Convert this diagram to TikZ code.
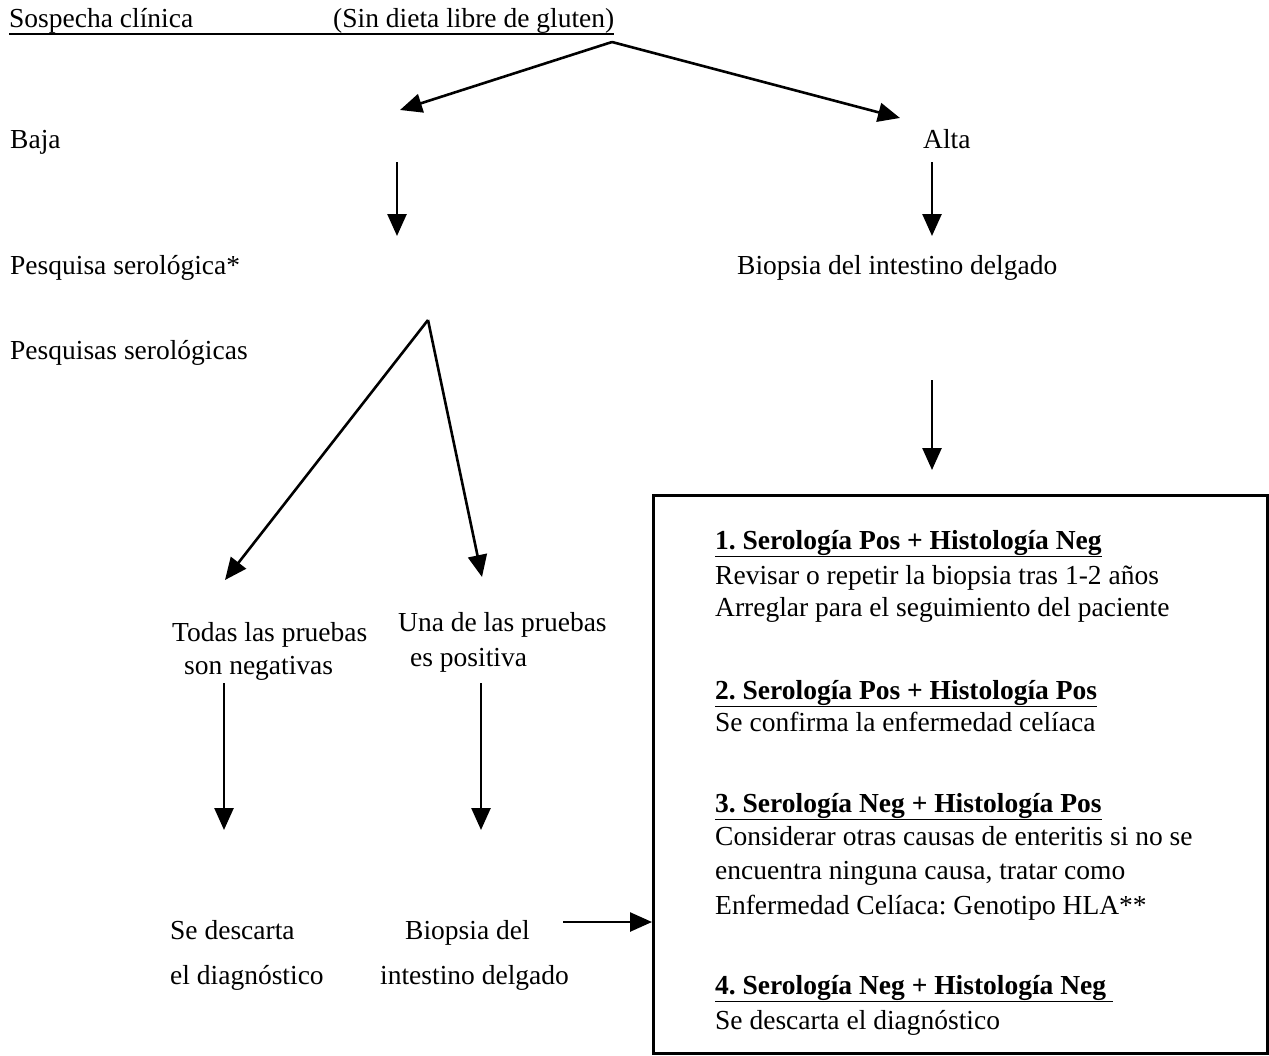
\documentclass[tikz,border=0pt]{standalone}
\usepackage{fontspec}
\setmainfont{Liberation Serif}
\usetikzlibrary{arrows.meta}
\frenchspacing
\begin{document}
\begin{tikzpicture}[x=1pt,y=-1pt,
  lbl/.style={inner sep=0pt,anchor=base west,font=\fontsize{27.5}{33}\selectfont},
  head/.style={lbl,font=\fontsize{27.5}{33}\selectfont\bfseries},
  arr/.style={line width=2.6pt,-{Triangle[length=22pt,width=19pt]}}]
\useasboundingbox (0,0) rectangle (1269,1055);

% heading line
\node[lbl] (sosp) at (9,27) {Sospecha clínica};
\node[lbl] (sin) at (333,27) {(Sin dieta libre de gluten)};
\draw[line width=1.2pt] ([yshift=-7pt]sosp.base west) -- ([yshift=-7pt]sin.base east);

% first split
\coordinate (top) at (612,42);
\coordinate (lowEnd) at (400,110);
\coordinate (highEnd) at (900,118);
\draw[arr] (top) -- (lowEnd);
\draw[arr] (top) -- (highEnd);

\node[lbl] (baja) at (10,148) {Baja};
\node[lbl] (alta) at (923,148) {Alta};

\coordinate (lowA) at (397,162);
\coordinate (lowB) at (397,236);
\draw[arr] (lowA) -- (lowB);
\coordinate (highA) at (932,162);
\coordinate (highB) at (932,236);
\draw[arr] (highA) -- (highB);

\node[lbl] (pesq) at (10,274) {Pesquisa serológica*};
\node[lbl] (biop1) at (737,274) {Biopsia del intestino delgado};
\node[lbl] (pesqs) at (10,359) {Pesquisas serológicas};

% second split
\coordinate (fork) at (428,320);
\coordinate (negEnd) at (225,580);
\coordinate (posEnd) at (482,577);
\draw[arr] (fork) -- (negEnd);
\draw[arr] (fork) -- (posEnd);

\coordinate (bA) at (932,380);
\coordinate (bB) at (932,470);
\draw[arr] (bA) -- (bB);

\node[lbl] (neg1) at (172,641) {Todas las pruebas};
\node[lbl] (neg2) at (184,674) {son negativas};
\node[lbl] (pos1) at (398,631) {Una de las pruebas};
\node[lbl] (pos2) at (410,666) {es positiva};

\coordinate (nA) at (224,683);
\coordinate (nB) at (224,830);
\draw[arr] (nA) -- (nB);
\coordinate (pA) at (481,683);
\coordinate (pB) at (481,830);
\draw[arr] (pA) -- (pB);

\node[lbl] (desc1) at (170,939) {Se descarta};
\node[lbl] (desc2) at (170,984) {el diagnóstico};
\node[lbl] (biop2a) at (405,939) {Biopsia del};
\node[lbl] (biop2b) at (380,984) {intestino delgado};

% results box
\node[draw,line width=3pt,inner sep=0pt,minimum width=614pt,minimum height=558pt,anchor=north west] (box) at (652,494) {};
\coordinate (bxA) at (563,922);
\draw[arr] (bxA) -- (bxA -| box.west);

\node[head] (h1) at (715,549) {\underline{1. Serología Pos + Histología Neg}};
\node[lbl] (t1a) at (715,584) {Revisar o repetir la biopsia tras 1-2 años};
\node[lbl] (t1b) at (715,616) {Arreglar para el seguimiento del paciente};
\node[head] (h2) at (715,699) {\underline{2. Serología Pos + Histología Pos}};
\node[lbl] (t2a) at (715,731) {Se confirma la enfermedad celíaca};
\node[head] (h3) at (715,812) {\underline{3. Serología Neg + Histología Pos}};
\node[lbl] (t3a) at (715,845) {Considerar otras causas de enteritis si no se};
\node[lbl] (t3b) at (715,879) {encuentra ninguna causa, tratar como};
\node[lbl] (t3c) at (715,914) {Enfermedad Celíaca: Genotipo HLA**};
\node[head] (h4) at (715,994) {\underline{4. Serología Neg + Histología Neg\ }};
\node[lbl] (t4a) at (715,1029) {Se descarta el diagnóstico};
\end{tikzpicture}
\end{document}
